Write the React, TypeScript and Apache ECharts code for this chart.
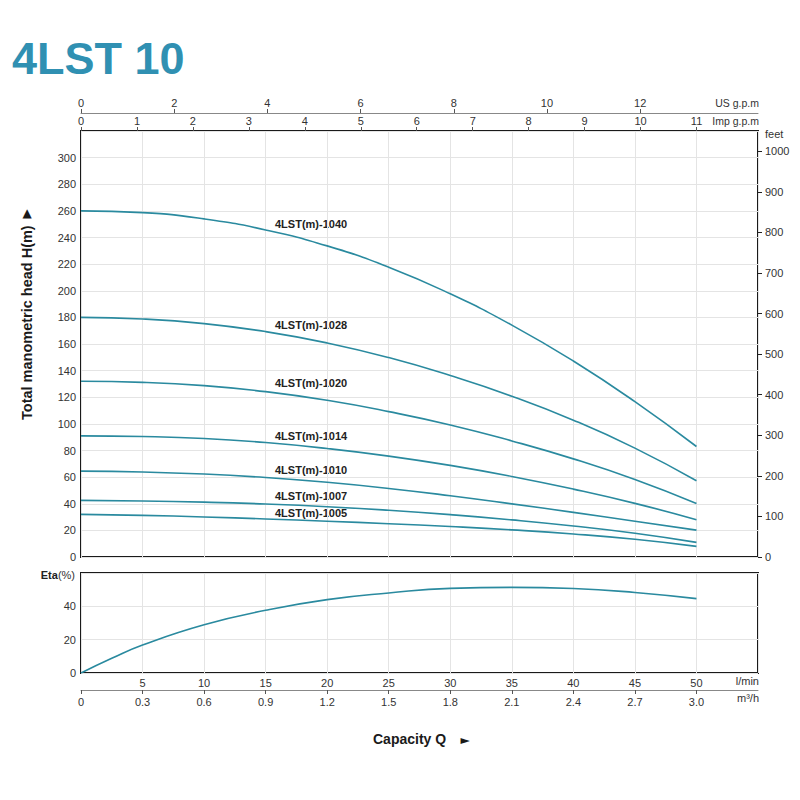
import React, { useEffect, useRef } from "react";
import * as echarts from "echarts";

// ---- data ----
const Q_LMIN = [0, 5, 10, 15, 20, 25, 30, 35, 40, 45, 50];
const H_1040 = [260, 258.7, 254, 245.7, 233.7, 217.7, 197.7, 174.2, 147.2, 116.7, 83];
const H_1028 = [180, 178.8, 175.3, 169.3, 160.8, 149.8, 136.3, 120.8, 102.8, 81.8, 57.3];
const H_1020 = [132, 131.2, 128.7, 124.2, 117.7, 109.2, 99.2, 87.2, 73.7, 58.2, 40.2];
const H_1014 = [91, 90.5, 89, 86, 81.5, 75.8, 68.8, 60.5, 51, 40.3, 28];
const H_1010 = [64.5, 63.9, 62.3, 59.7, 56.1, 51.5, 46, 39.9, 33.5, 26.9, 20.2];
const H_1007 = [42.5, 42.1, 41.2, 39.8, 37.8, 35.1, 31.8, 27.9, 23.3, 17.8, 11];
const H_1005 = [32, 31.3, 30.1, 28.6, 26.9, 25, 22.9, 20.4, 17.3, 13.3, 8];
const MODELS = ["4LST(m)-1040", "4LST(m)-1028", "4LST(m)-1020", "4LST(m)-1014", "4LST(m)-1010", "4LST(m)-1007", "4LST(m)-1005"];
const HEADS = [H_1040, H_1028, H_1020, H_1014, H_1010, H_1007, H_1005];

const ETA_Q = [0, 2.5, 5, 10, 15, 20, 25, 30, 35, 40, 45, 50];
const ETA = [0, 8.8, 16.8, 29, 37.6, 44, 48, 50.8, 51.4, 50.7, 48.3, 44.6];

const US_GPM_TICKS = [0, 2, 4, 6, 8, 10, 12];
const IMP_GPM_TICKS = [0, 1, 2, 3, 4, 5, 6, 7, 8, 9, 10, 11];
const FEET_TICKS = [0, 100, 200, 300, 400, 500, 600, 700, 800, 900, 1000];
const HEAD_TICKS = [0, 20, 40, 60, 80, 100, 120, 140, 160, 180, 200, 220, 240, 260, 280, 300];
const ETA_TICKS = [0, 20, 40];
const LMIN_TICKS = [5, 10, 15, 20, 25, 30, 35, 40, 45, 50];
const M3H_TICKS = [0, 0.3, 0.6, 0.9, 1.2, 1.5, 1.8, 2.1, 2.4, 2.7, 3.0];

const Q_MAX = 55;
const H_MAX = 320;
const ETA_MAX = 60;

// label placement (pixels) for the curve names
const LABEL_Y = [224, 325, 383, 436, 470, 495.5, 513];

const FONT = '"Liberation Sans", Arial, sans-serif';
const CURVE = "#2a8a9f";
const GRIDC = "#e4e4e4";
const TXT = "#333";

export default function App() {
  const ref = useRef<HTMLDivElement>(null);
  useEffect(() => {
    if (!ref.current) return;
    const chart = echarts.init(ref.current, undefined, { renderer: "svg" });
    const lbl = (extra: any = {}) => ({ color: TXT, fontSize: 11, fontFamily: FONT, formatter: (v: number) => String(v), ...extra });

    const headSeries = HEADS.map((h, i) => ({
      type: "line",
      name: MODELS[i],
      xAxisIndex: 0,
      yAxisIndex: 0,
      data: Q_LMIN.map((q, j) => [q, h[j]]),
      smooth: 0.5,
      showSymbol: false,
      lineStyle: { color: CURVE, width: 1.6 },
    }));

    const texts: any[] = [
      { type: "text", x: 12, y: 58, style: { text: "4LST 10", font: `bold 45px ${FONT}`, fill: "#3090b2", verticalAlign: "middle" } },
      { type: "text", x: 759, y: 103, style: { text: "US g.p.m", font: `10.5px ${FONT}`, fill: TXT, align: "right", verticalAlign: "middle" } },
      { type: "text", x: 759, y: 121, style: { text: "Imp g.p.m", font: `10.5px ${FONT}`, fill: TXT, align: "right", verticalAlign: "middle" } },
      { type: "text", x: 765, y: 134, style: { text: "feet", font: `11px ${FONT}`, fill: TXT, align: "left", verticalAlign: "middle" } },
      { type: "text", x: 759, y: 681, style: { text: "l/min", font: `11px ${FONT}`, fill: TXT, align: "right", verticalAlign: "middle" } },
      { type: "text", x: 759, y: 698, style: { text: "m³/h", font: `11px ${FONT}`, fill: TXT, align: "right", verticalAlign: "middle" } },
      {
        type: "text", x: 75, y: 575,
        style: {
          text: "{b|Eta}{n|(%)}", align: "right", verticalAlign: "middle",
          rich: { b: { fontWeight: "bold", fontSize: 11, fontFamily: FONT, fill: "#222" }, n: { fontSize: 11, fontFamily: FONT, fill: TXT } },
        },
      },
      { type: "text", x: 27, y: 420, rotation: Math.PI / 2, style: { text: "Total manometric head H(m)", font: `bold 14.5px ${FONT}`, fill: "#1a1a1a", align: "left", verticalAlign: "middle" } },
      { type: "text", x: 27, y: 213, style: { text: "▲", font: `12px "DejaVu Sans", sans-serif`, fill: "#1a1a1a", align: "center", verticalAlign: "middle" } },
      { type: "text", x: 373, y: 739, style: { text: "Capacity Q", font: `bold 14px ${FONT}`, fill: "#1a1a1a", align: "left", verticalAlign: "middle" } },
      { type: "text", x: 465, y: 740, style: { text: "►", font: `12px "DejaVu Sans", sans-serif`, fill: "#1a1a1a", align: "center", verticalAlign: "middle" } },
      ...MODELS.map((m, i) => ({
        type: "text", x: 275, y: LABEL_Y[i],
        style: { text: m, font: `bold 11px ${FONT}`, fill: "#222", align: "left", verticalAlign: "middle" },
      })),
    ];

    const noLine = { show: false, onZero: false };

    chart.setOption({
      animation: false,
      backgroundColor: "#fff",
      textStyle: { fontFamily: FONT },
      grid: [
        { left: 81, top: 131, width: 677, height: 426, show: true, borderColor: "#1a1a1a", borderWidth: 2, backgroundColor: "transparent" },
        { left: 81, top: 573, width: 677, height: 100, show: true, borderColor: "#1a1a1a", borderWidth: 2, backgroundColor: "transparent" },
      ],
      xAxis: [
        {
          gridIndex: 0, type: "value", min: 0, max: Q_MAX, interval: 5, position: "bottom",
          axisLine: noLine, axisTick: { show: false }, axisLabel: { show: false },
          splitLine: { show: true, lineStyle: { color: GRIDC, width: 1 } },
        },
        {
          gridIndex: 0, type: "value", min: 0, max: Q_MAX / 4.54609, position: "top",
          axisLine: noLine,
          axisTick: { show: true, customValues: IMP_GPM_TICKS, length: 4, lineStyle: { color: "#555" } },
          axisLabel: lbl({ customValues: IMP_GPM_TICKS, margin: 5 }),
          splitLine: { show: false },
        },
        {
          gridIndex: 0, type: "value", min: 0, max: Q_MAX / 3.78541, position: "top", offset: 18,
          axisLine: { show: true, onZero: false, lineStyle: { color: "#888", width: 1 } },
          axisTick: { show: true, customValues: US_GPM_TICKS, length: 4, lineStyle: { color: "#555" } },
          axisLabel: lbl({ customValues: US_GPM_TICKS, margin: 5 }),
          splitLine: { show: false },
        },
        {
          gridIndex: 1, type: "value", min: 0, max: Q_MAX, interval: 5, position: "bottom",
          axisLine: noLine, axisTick: { show: false },
          axisLabel: lbl({ customValues: LMIN_TICKS, margin: 4 }),
          splitLine: { show: true, lineStyle: { color: GRIDC, width: 1 } },
        },
        {
          gridIndex: 1, type: "value", min: 0, max: Q_MAX * 0.06, position: "bottom", offset: 17,
          axisLine: { show: true, onZero: false, lineStyle: { color: "#888", width: 1 } },
          axisTick: { show: true, customValues: M3H_TICKS, length: 4, lineStyle: { color: "#555" } },
          axisLabel: lbl({ customValues: M3H_TICKS, margin: 6, formatter: (v: number) => (v === 0 ? "0" : v.toFixed(1)) }),
          splitLine: { show: false },
        },
      ],
      yAxis: [
        {
          gridIndex: 0, type: "value", min: 0, max: H_MAX, interval: 20, position: "left",
          axisLine: noLine, axisTick: { show: false },
          axisLabel: lbl({ customValues: HEAD_TICKS, margin: 5 }),
          splitLine: { show: true, lineStyle: { color: GRIDC, width: 1 } },
        },
        {
          gridIndex: 0, type: "value", position: "right", min: 0, max: H_MAX / 0.3048,
          axisLine: noLine,
          axisTick: { show: true, customValues: FEET_TICKS, length: 4, lineStyle: { color: "#222" } },
          axisLabel: lbl({ customValues: FEET_TICKS, margin: 7 }),
          splitLine: { show: false },
        },
        {
          gridIndex: 1, type: "value", min: 0, max: ETA_MAX, interval: 20, position: "left",
          axisLine: noLine, axisTick: { show: false },
          axisLabel: lbl({ customValues: ETA_TICKS, margin: 5 }),
          splitLine: { show: true, lineStyle: { color: GRIDC, width: 1 } },
        },
      ],
      series: [
        ...headSeries,
        {
          type: "line", name: "Eta", xAxisIndex: 3, yAxisIndex: 2,
          data: ETA_Q.map((q, j) => [q, ETA[j]]),
          smooth: 0.5, showSymbol: false,
          lineStyle: { color: CURVE, width: 1.6 },
        },
      ],
      graphic: texts,
    });
    return () => chart.dispose();
  }, []);

  return <div ref={ref} style={{ position: "fixed", left: 0, top: 0, width: 800, height: 800, background: "#fff" }} />;
}
